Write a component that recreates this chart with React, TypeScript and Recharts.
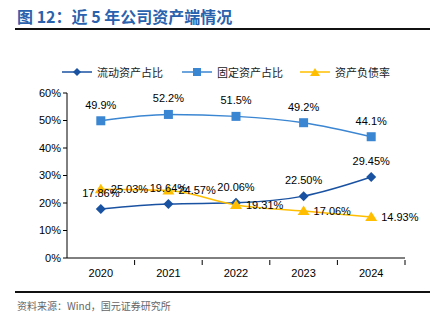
import React from "react";
import { LineChart, Line, XAxis, YAxis, LabelList } from "recharts";

const years = ["2020", "2021", "2022", "2023", "2024"];
const currentShare = [17.86, 19.64, 20.06, 22.5, 29.45];
const fixedShare = [49.9, 52.2, 51.5, 49.2, 44.1];
const debtRatio = [25.03, 24.57, 19.31, 17.06, 14.93];
const yTicks = [0, 10, 20, 30, 40, 50, 60];

const DARK = "#1a52a2";
const LIGHT = "#3b86d2";
const YELLOW = "#ffbf00";
const FONT = "'Liberation Sans', Arial, sans-serif";
const CJK = "'Noto Sans CJK SC', sans-serif";

const data = years.map((year, i) => ({
  year,
  current: currentShare[i],
  fixed: fixedShare[i],
  debt: debtRatio[i],
}));

const Diamond = ({ cx, cy }: any) => (
  <path d={`M${cx},${cy - 5}L${cx + 5},${cy}L${cx},${cy + 5}L${cx - 5},${cy}Z`} fill={DARK} />
);
const Square = ({ cx, cy }: any) => (
  <rect x={cx - 4.5} y={cy - 4.5} width={9} height={9} fill={LIGHT} />
);
const Triangle = ({ cx, cy }: any) => (
  <path d={`M${cx},${cy - 5.5}L${cx + 6},${cy + 4}L${cx - 6},${cy + 4}Z`} fill={YELLOW} />
);

// band centre ticks, with the tick mark drawn at the right band edge
const XTick = ({ x, y, payload }: any) => {
  const half = payload?.offset || 33.8;
  return (
    <g>
      <line x1={x + half} y1={y} x2={x + half} y2={y + 5} stroke="#000" />
      <text x={x} y={y + 17} textAnchor="middle" fontSize={11} fontFamily={FONT} fill="#000">
        {payload.value}
      </text>
    </g>
  );
};

const pct = (v: any) => `${Number(v).toFixed(2)}%`;
const pct1 = (v: any) => `${Number(v).toFixed(1)}%`;

const legendItems = [
  { name: "流动资产占比", color: DARK, shape: "diamond", left: 62 },
  { name: "固定资产占比", color: LIGHT, shape: "square", left: 182 },
  { name: "资产负债率", color: YELLOW, shape: "triangle", left: 300 },
];

function LegendIcon({ color, shape }: { color: string; shape: string }) {
  return (
    <svg width={30} height={10} style={{ display: "block" }}>
      <line x1={0} y1={5} x2={30} y2={5} stroke={color} strokeWidth={1.5} />
      {shape === "diamond" && <path d="M15,1L19,5L15,9L11,5Z" fill={color} />}
      {shape === "square" && <rect x={11} y={1} width={8} height={8} fill={color} />}
      {shape === "triangle" && <path d="M15,1L20,9L10,9Z" fill={color} />}
    </svg>
  );
}

export default function App() {
  return (
    <div style={{ position: "absolute", left: 0, top: 0, width: 430, height: 322, background: "#fff", overflow: "hidden" }}>
      <div
        style={{
          position: "absolute",
          left: 17,
          top: 4,
          fontFamily: CJK,
          fontWeight: 700,
          fontSize: 16,
          color: "#2a62ad",
          whiteSpace: "nowrap",
        }}
      >
        图 12：近 5 年公司资产端情况
      </div>
      <div style={{ position: "absolute", left: 15, top: 28, width: 415, height: 2, background: "#111" }} />
      {legendItems.map((item) => (
        <div
          key={item.name}
          style={{ position: "absolute", left: item.left, top: 64, display: "flex", alignItems: "center", gap: 5 }}
        >
          <LegendIcon color={item.color} shape={item.shape} />
          <span style={{ fontFamily: CJK, fontSize: 11, color: "#222", whiteSpace: "nowrap", lineHeight: "16px" }}>
            {item.name}
          </span>
        </div>
      ))}
      <div style={{ position: "absolute", left: 0, top: 0 }}>
        <LineChart width={430} height={322} data={data} margin={{ top: 93, right: 25, bottom: 34, left: 0 }}>
          <XAxis
            dataKey="year"
            scale="band"
            axisLine={{ stroke: "#000" }}
            tickLine={false}
            tick={<XTick />}
            tickSize={0}
            height={30}
            interval={0}
          />
          <YAxis
            domain={[0, 60]}
            ticks={yTicks}
            width={67}
            axisLine={{ stroke: "#000" }}
            tickLine={{ stroke: "#000" }}
            tickSize={4}
            tickFormatter={(v) => `${v}%`}
            tick={{ fontSize: 11, fontFamily: FONT, fill: "#000" }}
          />
          <Line
            dataKey="current"
            type="monotone"
            stroke={DARK}
            strokeWidth={1.5}
            dot={<Diamond />}
            isAnimationActive={false}
          >
            <LabelList dataKey="current" position="top" offset={12} formatter={pct} fontSize={11} fontFamily={FONT} fill="#000" />
          </Line>
          <Line
            dataKey="fixed"
            type="monotone"
            stroke={LIGHT}
            strokeWidth={1.5}
            dot={<Square />}
            isAnimationActive={false}
          >
            <LabelList dataKey="fixed" position="top" offset={12} formatter={pct1} fontSize={11} fontFamily={FONT} fill="#000" />
          </Line>
          <Line
            dataKey="debt"
            type="monotone"
            stroke={YELLOW}
            strokeWidth={1.5}
            dot={<Triangle />}
            isAnimationActive={false}
          >
            <LabelList dataKey="debt" position="right" offset={10} formatter={pct} fontSize={11} fontFamily={FONT} fill="#000" />
          </Line>
        </LineChart>
      </div>
      <div style={{ position: "absolute", left: 15, top: 291, width: 415, height: 2, background: "#111" }} />
      <div
        style={{
          position: "absolute",
          left: 17,
          top: 298,
          fontFamily: CJK,
          fontSize: 10,
          color: "#666",
          whiteSpace: "nowrap",
        }}
      >
        资料来源：Wind，国元证券研究所
      </div>
    </div>
  );
}
